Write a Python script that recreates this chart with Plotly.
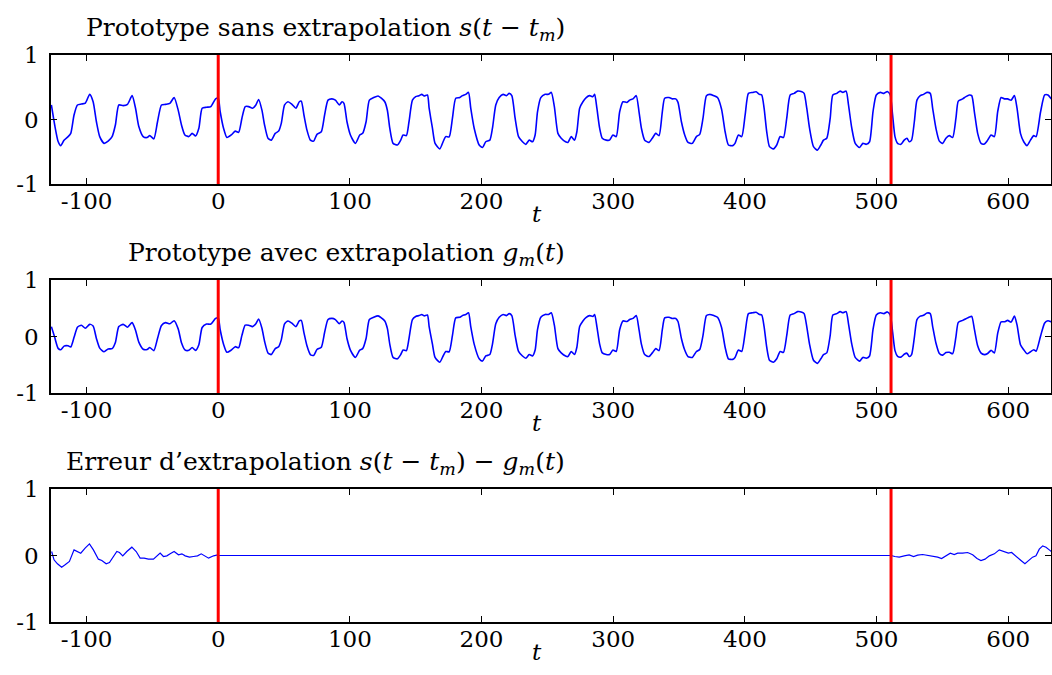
import plotly.graph_objects as go

# ---------------- data ----------------
# s(t - t_m): prototype without extrapolation
s_t = [-126.7, -124.2, -121.6, -119.6, -117.1, -114.0, -112.0, -109.5, -106.9, -103.9,
       -100.9, -97.6, -95.0, -92.5, -90.0, -86.7, -83.6, -80.6, -78.1, -75.5,
       -72.2, -68.9, -65.4, -62.8, -60.3, -57.0, -54.0, -52.0, -48.9, -46.1,
       -43.1, -40.0, -36.7, -33.5, -30.4, -27.9, -25.3, -22.3, -19.8, -17.2,
       -14.7, -12.2, -8.9, -5.6, -2.0, 0.0,
       1.5, 4.1, 6.6, 9.9, 12.9, 15.5, 18.0, 20.5, 23.1, 26.1, 28.6, 30.7, 33.2, 35.2,
       37.8, 40.3, 43.3, 45.9, 47.9, 50.4, 53.0, 56.0, 59.0, 61.6, 63.1, 65.1, 67.4,
       70.0, 72.5, 75.0, 78.3, 80.8, 83.4, 86.4, 89.0, 92.0, 94.0, 95.5, 97.8, 100.4,
       104.2, 107.5, 109.7, 112.3, 114.8, 118.1, 121.4, 123.9, 126.5, 128.5, 130.3,
       132.8, 136.1, 138.6, 140.4, 142.9, 144.9, 147.5, 150.0, 152.6, 154.6, 156.4,
       158.9, 160.2, 162.7, 164.7, 168.3, 170.8, 172.8, 175.4, 177.9, 180.4, 183.5,
       185.5, 188.0, 190.1, 191.8, 194.4, 198.2, 200.7, 203.2, 206.3, 208.3, 210.8,
       213.4, 216.4, 218.9, 221.0, 223.0, 225.5, 228.1, 231.1, 233.6, 236.2, 238.7,
       240.7, 242.5, 245.0, 248.3, 250.9, 253.0, 255.3, 258.0, 260.5, 263.8, 265.6,
       268.1, 270.6, 272.4, 274.5, 277.0, 279.5, 282.1, 284.6, 285.9, 287.6, 289.7,
       291.7, 294.7, 297.2, 299.8, 302.3, 304.9, 307.4, 310.4, 312.5, 315.0, 317.5,
       319.6, 321.4, 323.9, 327.2, 329.7, 332.3, 334.8, 337.3, 339.1, 342.4, 345.0,
       347.5, 349.2, 351.8, 354.3, 356.8, 360.1, 363.2, 365.7, 368.2, 370.8, 373.3,
       376.4, 379.2, 382.3, 385.0, 387.5, 390.8, 392.5, 395.1, 397.6, 400.2, 402.7,
       406.0, 408.5, 411.1, 412.8, 414.6, 416.6, 418.7, 421.7, 424.2, 426.8, 429.3,
       431.8, 434.4, 437.4, 440.0, 443.3, 445.0, 447.0, 449.1, 452.1, 455.1, 457.7,
       459.7, 462.2, 464.8, 466.8, 469.8, 472.4, 474.4, 476.9, 478.7, 481.2, 483.8,
       487.1, 489.6, 492.2, 494.7, 497.3, 499.8, 502.9, 505.6, 508.2, 510.4]
s_v = [0.225, -0.085, -0.34, -0.405, -0.32, -0.265, -0.215, 0.07, 0.225, 0.24,
       0.255, 0.39, 0.275, -0.035, -0.265, -0.37, -0.335, -0.265, -0.085, 0.225,
       0.215, 0.235, 0.37, 0.175, -0.11, -0.265, -0.28, -0.25, -0.30, -0.035,
       0.225, 0.235, 0.25, 0.34, 0.145, -0.085, -0.24, -0.265, -0.215, -0.255,
       -0.135, 0.175, 0.19, 0.20, 0.32, 0.33,
       0.12, -0.14, -0.28, -0.24, -0.18, -0.20, 0.02, 0.20, 0.20, 0.175, 0.225, 0.31, 0.145, -0.085,
       -0.29, -0.32, -0.215, -0.18, -0.06, 0.225, 0.275, 0.235, 0.175, 0.275, 0.285, 0.07, -0.165,
       -0.32, -0.335, -0.23, -0.19, 0.07, 0.30, 0.32, 0.30, 0.225, 0.275, 0.25, -0.035, -0.24,
       -0.37, -0.24, -0.215, -0.035, 0.30, 0.34, 0.365, 0.33, 0.275, 0.14, -0.135,
       -0.37, -0.395, -0.32, -0.24, -0.25, -0.035, 0.30, 0.355, 0.37, 0.39, 0.365,
       0.38, 0.175, -0.135, -0.37, -0.455, -0.345, -0.265, -0.27, 0.02, 0.33, 0.34,
       0.37, 0.39, 0.42, 0.175, -0.135, -0.395, -0.435, -0.345, -0.32, -0.135, 0.225,
       0.34, 0.39, 0.37, 0.405, 0.37, 0.02, -0.265, -0.345, -0.385, -0.32, -0.345,
       -0.24, 0.12, 0.34, 0.39, 0.39, 0.42, 0.20, -0.215, -0.29, -0.345, -0.355,
       -0.265, -0.32, -0.19, 0.175, 0.275, 0.34, 0.37, 0.355, 0.39, 0.175, -0.135,
       -0.29, -0.32, -0.32, -0.24, -0.265, 0.12, 0.275, 0.265, 0.30, 0.32, 0.37,
       0.12, -0.135, -0.32, -0.355, -0.29, -0.215, -0.25, 0.12, 0.33, 0.34, 0.32,
       0.32, 0.265, -0.035, -0.24, -0.355, -0.37, -0.265, -0.23, 0.02, 0.37, 0.39,
       0.37, 0.34, 0.16, -0.19, -0.395, -0.405, -0.37, -0.24, -0.265, 0.07, 0.405,
       0.42, 0.43, 0.39, 0.38, 0.175, -0.19, -0.42, -0.455, -0.395, -0.265, -0.28,
       0.02, 0.38, 0.405, 0.44, 0.43, 0.405, 0.175, -0.135, -0.42, -0.475, -0.395,
       -0.32, -0.29, 0.02, 0.38, 0.405, 0.44, 0.42, 0.44, 0.225, -0.135, -0.37,
       -0.435, -0.37, -0.385, -0.345, 0.12, 0.38, 0.42, 0.405, 0.435, 0.38]
# s after the window (t > 511)
s_right_t = [512.2, 514.0, 516.0, 518.5, 521.0, 523.1, 524.8, 526.6, 528.7, 530.7, 533.2,
             535.7, 538.3, 540.8, 542.6, 545.1, 547.7, 550.2, 552.7, 555.3, 557.8, 560.3,
             562.1, 565.4, 567.9, 570.5, 572.3, 574.3, 576.8, 579.4, 581.9, 584.4, 587.0,
             589.5, 592.0, 594.6, 597.1, 599.6, 602.2, 604.7, 606.7, 609.3, 611.8, 614.3,
             616.9, 619.4, 621.2, 624.6, 627.7, 630.2, 632.8, 634.0]
s_right_v = [0.07, -0.265, -0.37, -0.385, -0.32, -0.29, -0.345, -0.32, -0.035, 0.30, 0.37,
             0.39, 0.42, 0.405, 0.175, -0.135, -0.335, -0.37, -0.29, -0.25, -0.28, 0.02,
             0.285, 0.32, 0.355, 0.38, 0.37, 0.12, -0.215, -0.37, -0.38, -0.32, -0.24,
             -0.265, 0.12, 0.34, 0.32, 0.32, 0.30, 0.37, 0.175, -0.215, -0.345, -0.405,
             -0.32, -0.25, -0.265, 0.12, 0.38, 0.38, 0.32, 0.30]

# g_m(t): prototype with extrapolation (outside the window)
g_left_t = [-126.7, -124.2, -121.6, -119.6, -117.1, -114.0, -112.0, -109.5, -106.9, -103.9,
            -100.9, -97.6, -95.0, -92.5, -90.0, -86.7, -83.6, -80.6, -78.1, -75.5,
            -72.2, -68.9, -65.4, -62.8, -60.3, -57.0, -54.0, -52.0, -48.9, -46.1,
            -43.1, -40.0, -36.7, -33.5, -30.4, -27.9, -25.3, -22.3, -19.8, -17.2,
            -14.7, -12.2, -8.9, -5.6, -2.0]
g_left_v = [0.175, -0.015, -0.21, -0.235, -0.17, -0.165, -0.185, -0.015, 0.165, 0.20,
            0.145, 0.215, 0.185, -0.035, -0.205, -0.27, -0.22, -0.215, -0.105, 0.175,
            0.215, 0.165, 0.245, 0.11, -0.10, -0.225, -0.23, -0.195, -0.25, -0.035,
            0.195, 0.245, 0.225, 0.28, 0.135, -0.11, -0.235, -0.245, -0.195, -0.245,
            -0.145, 0.16, 0.22, 0.22, 0.32]
g_right_t = [512.2, 514.0, 516.0, 518.5, 521.0, 523.1, 524.8, 526.6, 528.7, 530.7, 533.2,
             535.7, 538.3, 540.8, 542.6, 545.1, 547.7, 550.2, 552.7, 555.3, 557.8, 560.3,
             562.1, 565.4, 567.9, 570.5, 572.3, 574.3, 576.8, 579.4, 581.9, 584.4, 587.0,
             589.5, 592.0, 594.6, 597.1, 599.6, 602.2, 604.7, 606.7, 609.3, 611.8, 614.3,
             616.9, 619.4, 621.2, 624.6, 627.7, 630.2, 632.8, 634.0]
g_right_v = [0.08, -0.25, -0.35, -0.365, -0.315, -0.295, -0.355, -0.32, -0.02, 0.30, 0.36,
             0.375, 0.415, 0.405, 0.18, -0.115, -0.30, -0.33, -0.285, -0.28, -0.305, -0.005,
             0.25, 0.285, 0.315, 0.345, 0.355, 0.13, -0.165, -0.295, -0.32, -0.30, -0.245,
             -0.29, 0.055, 0.26, 0.26, 0.285, 0.255, 0.36, 0.205, -0.145, -0.235, -0.305,
             -0.27, -0.235, -0.26, 0.01, 0.24, 0.28, 0.26, 0.255]

# extrapolation error s(t - t_m) - g_m(t)
e_t = [-126.5, -124.7, -122.1, -118.9, -116.3, -113.0, -109.5, -106.9, -104.4, -101.1,
       -97.8, -94.8, -91.0, -88.4, -85.1, -82.6, -79.6, -77.0, -75.0, -72.5, -69.4,
       -65.6, -62.3, -59.3, -56.3, -53.0, -49.2, -46.6, -44.1, -41.6, -39.0, -36.5,
       -33.5, -30.2, -27.6, -25.1, -21.8, -18.8, -15.7, -12.9, -10.6, -7.3, -3.5, -0.5,
       0.0, 511.0,
       513.9, 517.2, 521.0, 524.8, 528.1, 531.2, 535.0, 538.8, 542.6, 546.4, 549.4,
       552.7, 556.0, 559.0, 561.6, 565.4, 569.2, 573.0, 576.3, 579.3, 582.4, 585.7,
       589.5, 593.2, 597.0, 600.1, 602.6, 605.9, 609.7, 612.7, 615.3, 618.5, 621.1,
       623.6, 626.2, 628.7, 631.2, 633.8]
e_v = [0.06, -0.065, -0.125, -0.175, -0.14, -0.09, 0.085, 0.06, 0.035, 0.11,
       0.175, 0.085, -0.055, -0.075, -0.125, -0.105, -0.025, 0.06, 0.045, -0.005, 0.06,
       0.125, 0.06, -0.04, -0.04, -0.055, -0.055, -0.005, 0.035, -0.015, -0.005, 0.025,
       0.06, 0.01, 0.025, -0.005, -0.025, -0.015, -0.005, 0.025, -0.005, -0.04, -0.005, 0.01,
       0.0, 0.0,
       -0.015, -0.025, -0.005, 0.01, -0.015, 0.005, 0.015, 0.005, -0.005, -0.025, -0.045,
       -0.005, 0.035, 0.015, 0.035, 0.035, 0.045, 0.01, -0.045, -0.075, -0.055, -0.005,
       0.025, 0.085, 0.06, 0.035, 0.045, -0.005, -0.075, -0.125, -0.075, -0.025, -0.005,
       0.095, 0.145, 0.125, 0.085, 0.045]

window_marks = [0, 511]          # red vertical lines
x_ticks = [-100, 0, 100, 200, 300, 400, 500, 600]
x_ticktext = ["-100", "0", "100", "200", "300", "400", "500", "600"]
y_ticks = [-1, 0, 1]
y_ticktext = ["-1", "0", "1"]

MS = " \u2212 "  # minus with math spacing
titles = ["Prototype sans extrapolation <i>s</i>(<i>t</i>" + MS + "<i>t</i><sub><i>m</i></sub>)",
          "Prototype avec extrapolation <i>g</i><sub><i>m</i></sub>(<i>t</i>)",
          "Erreur d’extrapolation <i>s</i>(<i>t</i>" + MS + "<i>t</i><sub><i>m</i></sub>)"
          + MS + "<i>g</i><sub><i>m</i></sub>(<i>t</i>)"]

# ---------------- layout geometry ----------------
W, H = 1052, 675
X0, X1 = 51, 1051
panels = [(55, 184), (280, 393), (489, 622)]   # pixel top/bottom of each axes box
FONT = "DejaVu Serif"

fig = go.Figure()

i0 = s_t.index(0.0)
g_t = g_left_t + s_t[i0:] + g_right_t
g_v = g_left_v + s_v[i0:] + g_right_v
full_s_t = s_t + s_right_t
full_s_v = s_v + s_right_v

series = [(full_s_t, full_s_v), (g_t, g_v), (e_t, e_v)]
line_w = [1.6, 1.6, 1.2]
shapes_ = ["spline", "spline", "linear"]

for i, (tt, vv) in enumerate(series):
    k = "" if i == 0 else str(i + 1)
    ln = dict(color="#0000ff", width=line_w[i], shape=shapes_[i])
    if shapes_[i] == "spline":
        ln["smoothing"] = 0.6
    fig.add_trace(go.Scatter(x=tt, y=vv, mode="lines", line=ln,
                             xaxis="x" + k, yaxis="y" + k, showlegend=False, hoverinfo="skip"))
    top, bot = panels[i]
    ax = dict(domain=[X0 / W, X1 / W], range=[-127, 632.5], tickvals=x_ticks, ticktext=x_ticktext,
              ticks="inside", ticklen=6, tickwidth=1.2, tickcolor="black",
              showline=True, linecolor="black", linewidth=1.6, mirror="ticks",
              showgrid=False, zeroline=False, anchor="y" + k, automargin=False,
              ticklabelstandoff=-4,
              tickfont=dict(family=FONT, size=23, color="black"))
    ay = dict(domain=[1 - bot / H, 1 - top / H], range=[-1, 1], tickvals=y_ticks, ticktext=y_ticktext,
              ticks="inside", ticklen=6, tickwidth=1.2, tickcolor="black",
              showline=True, linecolor="black", linewidth=1.6, mirror="ticks",
              showgrid=False, zeroline=False, anchor="x" + k, ticklabelstandoff=6, automargin=False,
              tickfont=dict(family=FONT, size=23, color="black"))
    fig.update_layout({"xaxis" + k: ax, "yaxis" + k: ay})
    for m in window_marks:
        fig.add_shape(type="line", x0=m, x1=m, y0=0, y1=1, xref="x" + k, yref="y" + k + " domain",
                      line=dict(color="#ff0000", width=3))
    # panel title (right-aligned like the reference)
    fig.add_annotation(text=titles[i], x=567 / W, y=1 - (top - 26) / H, xref="paper", yref="paper",
                       xanchor="right", yanchor="middle", showarrow=False,
                       font=dict(family=FONT, size=25, color="black"))
    # x-axis label
    fig.add_annotation(text="<i>t</i>", x=537 / W, y=1 - (bot + 30) / H,
                       xref="paper", yref="paper", xanchor="center", yanchor="middle",
                       showarrow=False, font=dict(family=FONT, size=23, color="black"))

fig.update_layout(width=W, height=H, margin=dict(l=0, r=0, t=0, b=0, autoexpand=False),
                  plot_bgcolor="white", paper_bgcolor="white")

fig.write_html("out.html")
